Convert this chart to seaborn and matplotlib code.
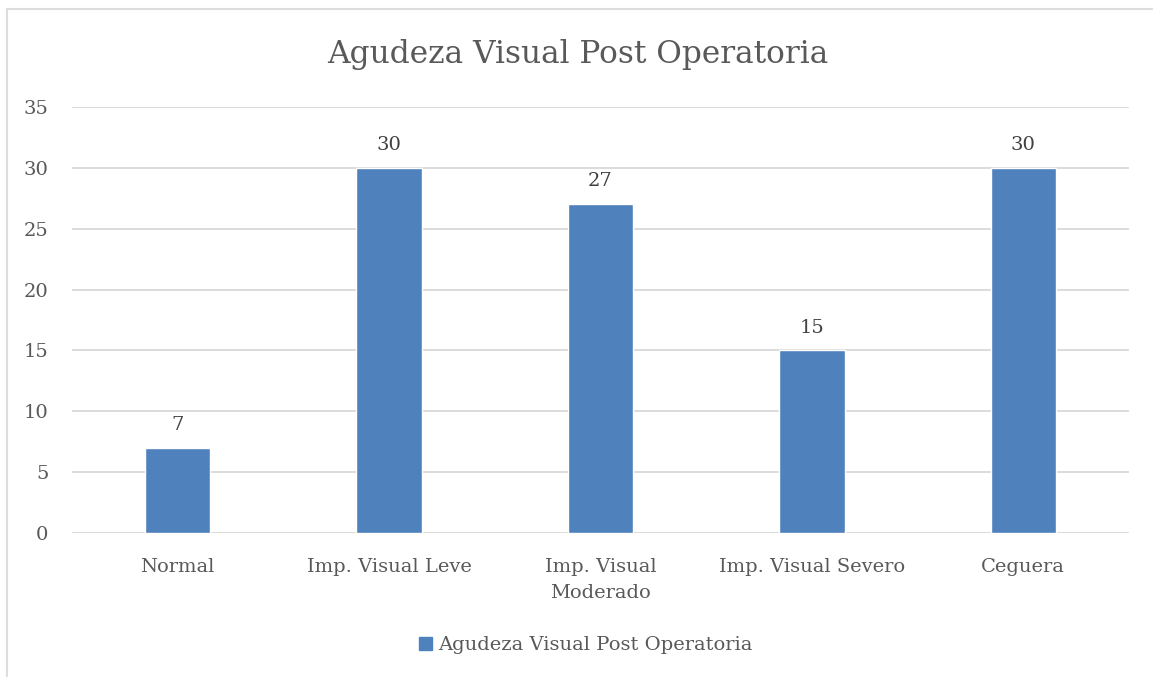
import matplotlib
matplotlib.use("Agg")
import matplotlib.pyplot as plt
import seaborn as sns
import pandas as pd
from matplotlib.lines import Line2D
from matplotlib.patches import Patch

categories = ["Normal", "Imp. Visual Leve", "Imp. Visual\nModerado", "Imp. Visual Severo", "Ceguera"]
values = [7, 30, 27, 15, 30]
series_name = "Agudeza Visual Post Operatoria"
title = "Agudeza Visual Post Operatoria"
yticks = [0, 5, 10, 15, 20, 25, 30, 35]

sns.set_theme(style="white")
plt.rcParams["font.family"] = ["DejaVu Serif"]

BLUE = "#4F81BD"
TXT = "#595959"
GRID = "#D9D9D9"

W, H = 1153, 677
fig = plt.figure(figsize=(W / 100, H / 100), dpi=100)
ax = fig.add_axes([72 / W, 1 - 533 / H, (1129 - 72) / W, (533 - 107) / H])

df = pd.DataFrame({"cat": categories, "val": values})
sns.barplot(data=df, x="cat", y="val", color=BLUE, width=0.31, ax=ax, saturation=1)

ax.set_ylim(0, 35)
ax.set_yticks(yticks)
ax.set_xlim(-0.5, len(categories) - 0.5)
for y in yticks:
    ax.axhline(y, color=GRID, lw=1.3, zorder=0)
for s in ax.spines.values():
    s.set_visible(False)
ax.set_xlabel("")
ax.set_ylabel("")
ax.tick_params(axis="both", length=0, labelsize=14, colors=TXT)
ax.tick_params(axis="y", pad=17)
ax.tick_params(axis="x", pad=18)
for lab in ax.get_yticklabels():
    lab.set_horizontalalignment("right")
for lab in ax.get_xticklabels():
    lab.set_linespacing(1.6)

for c in ax.containers:
    ax.bar_label(c, labels=[str(v) for v in values], padding=10, fontsize=14, color="#404040")

fig.text(578 / W, 1 - 55 / H, title, ha="center", va="center", fontsize=22.5, color=TXT)

handles = [Patch(facecolor=BLUE, edgecolor=BLUE)]
fig.legend(handles, [series_name], loc="center", bbox_to_anchor=(586 / W, 1 - 645 / H),
           frameon=False, fontsize=14, handlelength=0.65, handleheight=0.65, handletextpad=0.35,
           labelcolor=TXT)

# chart border
fig.add_artist(Line2D([6.5 / W, 6.5 / W], [0, 1 - 9 / H], transform=fig.transFigure, color="#DDDDDD", lw=1.5))
fig.add_artist(Line2D([6.5 / W, 1], [1 - 9 / H, 1 - 9 / H], transform=fig.transFigure, color="#DDDDDD", lw=1.5))

fig.savefig("out.png", dpi=100)
